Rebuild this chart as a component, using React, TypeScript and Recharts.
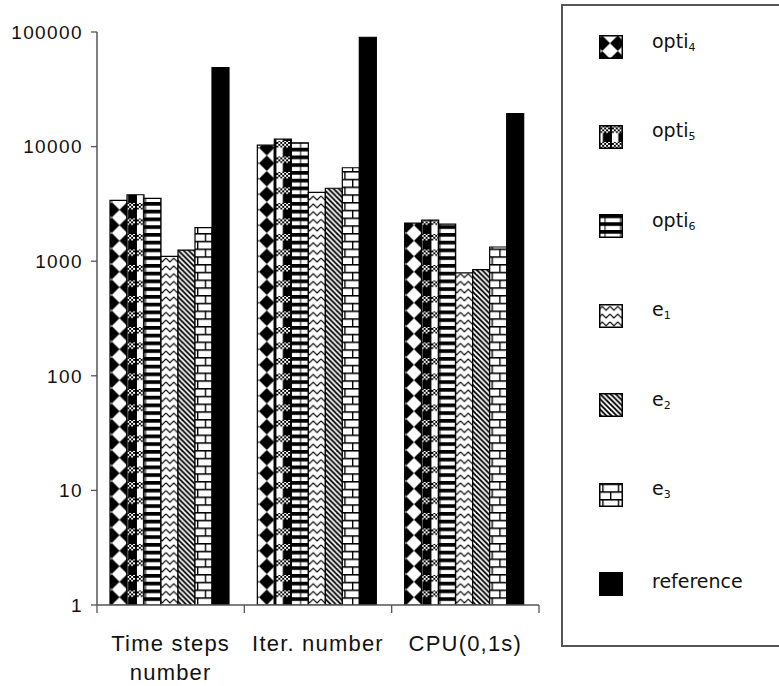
import React from "react";
import { BarChart, Bar, XAxis, YAxis, Legend } from "recharts";

// ---- data ----
const categories = ["Time steps number", "Iter. number", "CPU(0,1s)"];
const opti4 = [3400, 10300, 2150];
const opti5 = [3800, 11600, 2280];
const opti6 = [3540, 10800, 2110];
const e1 = [1100, 3990, 790];
const e2 = [1250, 4330, 845];
const e3 = [1960, 6540, 1330];
const reference = [48800, 90000, 19400];
const yTicks = [1, 10, 100, 1000, 10000, 100000];

const series = [
  { key: "opti4", base: "opti", sub: "4", values: opti4 },
  { key: "opti5", base: "opti", sub: "5", values: opti5 },
  { key: "opti6", base: "opti", sub: "6", values: opti6 },
  { key: "e1", base: "e", sub: "1", values: e1 },
  { key: "e2", base: "e", sub: "2", values: e2 },
  { key: "e3", base: "e", sub: "3", values: e3 },
  { key: "reference", base: "reference", sub: "", values: reference },
];

const data = categories.map((cat, i) => {
  const row: any = { cat };
  series.forEach((s) => {
    row[s.key] = s.values[i];
  });
  return row;
});

// ---- layout ----
const CHART_W = 779;
const CHART_H = 686;
const MARGIN = { top: 32, right: 240, bottom: 21, left: 0 };
const YAXIS_W = 97;
const XAXIS_H = 60;
const AXIS_Y = CHART_H - MARGIN.bottom - XAXIS_H;
const PLOT_W = CHART_W - MARGIN.left - MARGIN.right - YAXIS_W;
const BAND = PLOT_W / categories.length;
const T = 15.5;
const U = T / 8;
const PX = 104;

const AXIS_FONT = "'Liberation Sans', Arial, sans-serif";

function wrapLabel(s: string, max: number) {
  const words = s.split(" ");
  const lines: string[] = [];
  let cur = "";
  words.forEach((w) => {
    const next = cur ? cur + " " + w : w;
    if (next.length > max && cur) {
      lines.push(cur);
      cur = w;
    } else cur = next;
  });
  if (cur) lines.push(cur);
  return lines;
}

const CatTick = (props: any) => {
  const { x, payload, index } = props;
  const lines = wrapLabel(String(payload.value), 12);
  return (
    <g>
      <line x1={x - BAND / 2} x2={x - BAND / 2} y1={AXIS_Y} y2={AXIS_Y + 8} stroke="#555" strokeWidth={1.3} />
      {index === categories.length - 1 && (
        <line x1={x + BAND / 2} x2={x + BAND / 2} y1={AXIS_Y} y2={AXIS_Y + 8} stroke="#555" strokeWidth={1.3} />
      )}
      <text
        x={x}
        y={AXIS_Y + 38}
        textAnchor="middle"
        fontSize={22}
        fontFamily={AXIS_FONT}
        fill="#111"
        style={{ letterSpacing: 1.2 }}
      >
        {lines.map((l, i) => (
          <tspan key={i} x={x} dy={i === 0 ? "0.355em" : 29}>
            {l}
          </tspan>
        ))}
      </text>
    </g>
  );
};

const Patterns = () => (
  <defs>
    <pattern id="p-chk" patternUnits="userSpaceOnUse" width={2} height={2}>
      <rect width={2} height={2} fill="#fff" />
      <rect width={1} height={1} fill="#000" />
      <rect x={1} y={1} width={1} height={1} fill="#000" />
    </pattern>
    <pattern id="p-opti4" patternUnits="userSpaceOnUse" x={PX} y={AXIS_Y} width={T} height={T}>
      <g transform={`scale(${U})`}>
        <rect width={8} height={8} fill="#fff" />
        <polygon points="4,0 8,4 4,8 0,4" fill="#000" />
      </g>
    </pattern>
    <pattern id="p-opti5" patternUnits="userSpaceOnUse" x={PX} y={AXIS_Y} width={T} height={T}>
      <g transform={`scale(${U})`}>
        <rect width={8} height={8} fill="#000" />
        <rect x={1} width={3.3} height={8} fill="#fff" />
        <rect x={1} y={0.5} width={7} height={3.3} fill="url(#p-chk)" />
      </g>
    </pattern>
    <pattern id="p-opti6" patternUnits="userSpaceOnUse" x={PX} y={AXIS_Y} width={T} height={T}>
      <g transform={`scale(${U})`}>
        <rect width={8} height={8} fill="#fff" />
        <rect y={0} width={8} height={1.9} fill="#000" />
        <rect y={4} width={8} height={1.9} fill="#000" />
        <rect x={5.2} width={0.5} height={8} fill="#000" />
      </g>
    </pattern>
    <pattern id="p-e1" patternUnits="userSpaceOnUse" x={PX} y={AXIS_Y} width={T} height={T}>
      <g transform={`scale(${U})`}>
        <rect width={8} height={8} fill="#fff" />
        <polyline points="0,1 2,3 4,1 6,3 8,1" fill="none" stroke="#000" strokeWidth={0.6} />
        <polyline points="0,5 2,7 4,5 6,7 8,5" fill="none" stroke="#000" strokeWidth={0.6} />
      </g>
    </pattern>
    <pattern id="p-e2" patternUnits="userSpaceOnUse" x={PX} y={AXIS_Y} width={T} height={T}>
      <g transform={`scale(${U})`}>
        <rect width={8} height={8} fill="#fff" />
        {[-8, -16 / 3, -8 / 3, 0, 8 / 3, 16 / 3, 8].map((c, i) => (
          <line key={i} x1={c - 1} y1={-1} x2={c + 9} y2={9} stroke="#000" strokeWidth={0.95} />
        ))}
      </g>
    </pattern>
    <pattern id="p-e3" patternUnits="userSpaceOnUse" x={PX} y={AXIS_Y} width={T} height={T}>
      <g transform={`scale(${U})`}>
        <rect width={8} height={8} fill="#fff" />
        <rect y={0} width={8} height={0.8} fill="#000" />
        <rect y={4} width={8} height={0.8} fill="#000" />
        <rect x={4} y={0} width={0.7} height={4} fill="#000" />
        <rect x={0} y={4} width={0.7} height={4} fill="#000" />
      </g>
    </pattern>
    <pattern id="p-reference" patternUnits="userSpaceOnUse" width={T} height={T}>
      <rect width={T} height={T} fill="#000" />
    </pattern>
  </defs>
);

const renderLegend = () => (
  <div
    style={{
      width: 230,
      height: 643,
      border: "2px solid #555",
      boxSizing: "border-box",
      position: "relative",
      background: "#fff",
      fontFamily: "'DejaVu Sans', sans-serif",
      color: "#111",
    }}
  >
    {series.map((s, i) => (
      <div
        key={s.key}
        style={{
          position: "absolute",
          left: 36,
          top: 29 + i * 89.5,
          height: 24,
          display: "flex",
          alignItems: "center",
        }}
      >
        <svg width={24} height={24} style={{ display: "block" }}>
          <rect x={0.75} y={0.75} width={22.5} height={22.5} fill={`url(#p-${s.key})`} stroke="#000" strokeWidth={1.5} />
        </svg>
        <span
          style={{
            marginLeft: 29,
            fontSize: 19,
            lineHeight: "24px",
            position: "relative",
            top: -3,
            whiteSpace: "nowrap",
          }}
        >
          {s.base}
          {s.sub && <span style={{ fontSize: 11, verticalAlign: "-3px" }}>{s.sub}</span>}
        </span>
      </div>
    ))}
  </div>
);

export default function App() {
  return (
    <div
      style={{
        position: "absolute",
        left: 0,
        top: 0,
        width: CHART_W,
        height: CHART_H,
        overflow: "hidden",
        background: "#fff",
      }}
    >
      <BarChart
        width={CHART_W}
        height={CHART_H}
        data={data}
        margin={MARGIN}
        barCategoryGap={13}
        barGap={0}
      >
        <Patterns />
        <XAxis
          dataKey="cat"
          height={XAXIS_H}
          interval={0}
          tickLine={false}
          tick={<CatTick />}
          axisLine={{ stroke: "#555", strokeWidth: 1.5 }}
        />
        <XAxis
          xAxisId="top"
          orientation="top"
          dataKey="cat"
          height={0}
          tick={false}
          tickLine={false}
          axisLine={{ stroke: "#9a9a9a", strokeWidth: 1.5 }}
        />
        <YAxis
          scale="log"
          domain={[1, 100000]}
          ticks={yTicks}
          interval={0}
          allowDataOverflow
          width={YAXIS_W}
          tickSize={6}
          tickMargin={8}
          axisLine={{ stroke: "#555", strokeWidth: 1.5 }}
          tickLine={{ stroke: "#555", strokeWidth: 1.3 }}
          tick={{ fontSize: 19, fontFamily: AXIS_FONT, fill: "#111", style: { letterSpacing: 1.4 } }}
        />
        <YAxis
          yAxisId="right"
          orientation="right"
          width={0}
          tick={false}
          tickLine={false}
          axisLine={{ stroke: "#9a9a9a", strokeWidth: 1.5 }}
        />
        {series.map((s) => (
          <Bar
            key={s.key}
            dataKey={s.key}
            name={s.base + s.sub}
            fill={`url(#p-${s.key})`}
            stroke="#000"
            strokeWidth={1.2}
            isAnimationActive={false}
          />
        ))}
        <Legend
          layout="horizontal"
          verticalAlign="middle"
          align="center"
          content={renderLegend}
          wrapperStyle={{ left: 561, top: 4, width: 230, height: 643, margin: 0, padding: 0 }}
        />
      </BarChart>
    </div>
  );
}
